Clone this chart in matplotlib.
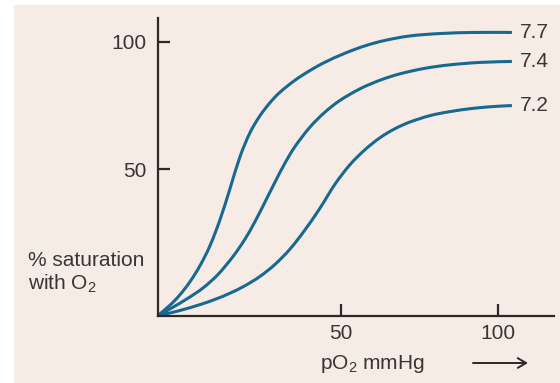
import numpy as np
import matplotlib.pyplot as plt
from matplotlib.patches import Rectangle, PathPatch
from matplotlib.path import Path

plt.rcParams['font.family'] = ['Liberation Sans', 'DejaVu Sans']
plt.rcParams['mathtext.fontset'] = 'custom'
plt.rcParams['mathtext.rm'] = 'Liberation Sans'
plt.rcParams['mathtext.it'] = 'Liberation Sans:italic'

# pO2 (mmHg) / % saturation (schematic axes, origin sits below 0)
x_77 = [-8.06, -4.16, -0.98, 2.19, 5.36, 8.53, 11.71, 14.88, 18.05, 21.22, 24.40, 27.57,
        30.74, 35.50, 40.26, 45.02, 51.36, 57.71, 64.05, 71.98, 81.50, 92.60, 104.34]
y_77 = [-7.37, -3.25, 0.86, 5.96, 12.23, 20.06, 30.25, 42.40, 54.94, 64.34, 71.00, 76.10,
        80.21, 84.91, 88.71, 91.97, 95.49, 98.39, 100.51, 102.27, 103.21, 103.64, 103.64]

x_74 = [-8.06, -3.52, 1.55, 6.31, 11.07, 15.83, 19.64, 22.81, 25.98, 29.16, 32.33, 35.50,
        40.26, 45.02, 49.78, 56.12, 62.47, 68.81, 76.74, 84.67, 94.19, 104.34]
y_74 = [-7.37, -4.27, -0.51, 3.49, 8.78, 15.83, 22.65, 29.51, 37.15, 44.98, 52.43, 58.90,
        66.54, 72.41, 77.00, 81.54, 84.91, 87.42, 89.58, 90.95, 91.89, 92.28]

x_72 = [-8.06, -4.16, 0.60, 5.36, 10.12, 14.88, 19.64, 24.40, 29.16, 33.92, 38.67, 43.43,
        48.19, 52.95, 57.71, 62.47, 67.23, 71.98, 78.33, 84.67, 92.60, 100.54, 104.34]
y_72 = [-7.37, -6.31, -4.78, -3.02, -0.98, 1.45, 4.39, 8.03, 12.74, 18.73, 26.25, 34.76,
        44.16, 51.80, 57.68, 62.38, 65.91, 68.53, 71.04, 72.61, 73.98, 74.76, 74.96]

curves = [(x_77, y_77, '7.7'), (x_74, y_74, '7.4'), (x_72, y_72, '7.2')]
ticks = [50, 100]

line_col = '#17698f'
ink = '#2e2826'
txt = '#3a3434'
fs = 15


def smooth_path(xs, ys):
    # Catmull-Rom through the read points, drawn as cubic Bezier segments
    p = np.column_stack([xs, ys])
    q = np.vstack([p[0], p, p[-1]])
    verts = [p[0]]
    codes = [Path.MOVETO]
    for i in range(1, len(q) - 2):
        c1 = q[i] + (q[i + 1] - q[i - 1]) / 6
        c2 = q[i + 1] - (q[i + 2] - q[i]) / 6
        verts += [c1, c2, q[i + 1]]
        codes += [Path.CURVE4] * 3
    return Path(verts, codes)


fig = plt.figure(figsize=(5.6, 3.83), dpi=100, facecolor='white')
fig.patches.append(Rectangle((14 / 560, 0), 1, (383 - 5) / 383, transform=fig.transFigure,
                             facecolor='#f7ece5', edgecolor='none', zorder=-10))

ax = fig.add_axes([157.7 / 560, (383 - 315.7) / 383, (554 - 157.7) / 560, (315.7 - 18) / 383])
ax.set_facecolor('none')

for xs, ys, lab in curves:
    ax.add_patch(PathPatch(smooth_path(xs, ys), facecolor='none', edgecolor=line_col,
                           lw=2.2, capstyle='butt', clip_on=False))
    ax.annotate(lab, (xs[-1], ys[-1]), xytext=(6, 0), textcoords='offset points',
                ha='left', va='center', fontsize=fs, color=txt)

ax.set_xlim(-8.06, 117.7)
ax.set_ylim(-7.37, 109.3)
ax.set_xticks(ticks)
ax.set_yticks(ticks)
for s in ['top', 'right']:
    ax.spines[s].set_visible(False)
for s in ['left', 'bottom']:
    ax.spines[s].set_linewidth(1.6)
    ax.spines[s].set_color(ink)
ax.tick_params(direction='in', length=8.6, width=1.6, color=ink, labelsize=fs,
               labelcolor=txt)
ax.tick_params(axis='y', pad=8)
ax.tick_params(axis='x', pad=6)

fig.text(28 / 560, (383 - 266) / 383, '% saturation', fontsize=fs, color=txt,
         ha='left', va='baseline')
fig.text(28 / 560, (383 - 290) / 383, 'with O$_2$', fontsize=fs, color=txt,
         ha='left', va='baseline')
fig.text(320 / 560, (383 - 369) / 383, 'pO$_2$ mmHg', fontsize=fs, color=txt,
         ha='left', va='baseline')
ax.annotate('', xy=(528 / 560, (383 - 363) / 383), xytext=(473 / 560, (383 - 363) / 383),
            xycoords='figure fraction', textcoords='figure fraction',
            arrowprops=dict(arrowstyle='->,head_length=0.6,head_width=0.35', lw=1.4,
                            color=ink, shrinkA=0, shrinkB=0))

fig.savefig('out.png', dpi=100, facecolor=fig.get_facecolor())
